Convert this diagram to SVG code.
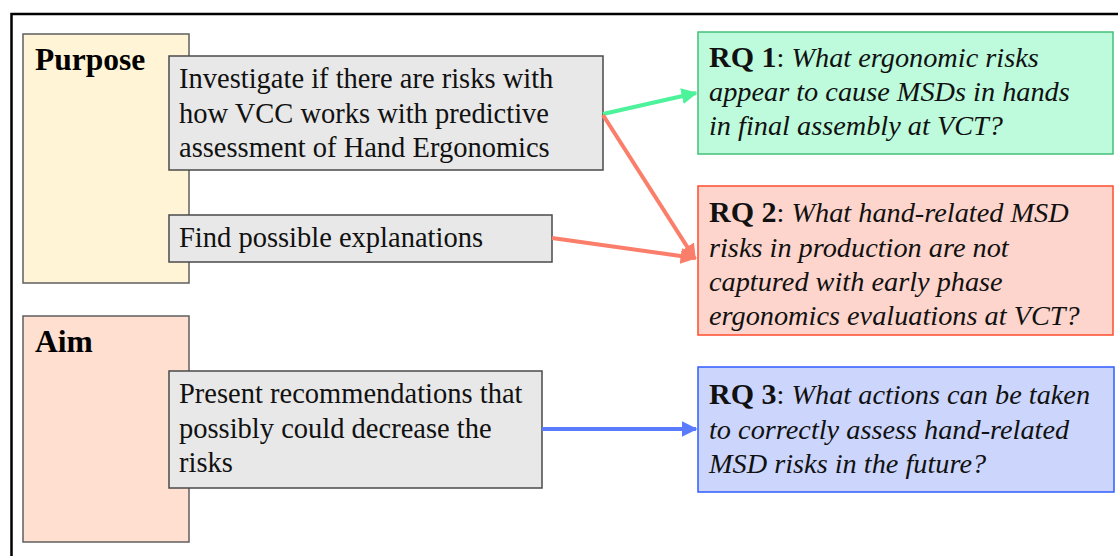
<svg xmlns="http://www.w3.org/2000/svg" width="1118" height="556" viewBox="0 0 1118 556">
  <style>
    .frame { fill: #ffffff; stroke: #000000; stroke-width: 2.5; }
    .group { stroke: #5f5f5f; stroke-width: 1.5; }
    .item { fill: #e8e8e8; stroke: #4a4a4a; stroke-width: 1.5; }
    .head { font-family: "Liberation Serif", "Times New Roman", serif; font-weight: bold; font-size: 31.5px; fill: #000; }
    .body { font-family: "Liberation Serif", "Times New Roman", serif; font-size: 28.5px; fill: #111; }
    .rq { font-family: "Liberation Serif", "Times New Roman", serif; font-size: 28.3px; fill: #111; font-style: italic; }
    .rq .lbl { font-weight: bold; font-style: normal; font-size: 30px; }
    .rq .sep { font-style: normal; }
    .conn { fill: none; stroke-width: 4; }
  </style>
  <defs>
    <marker id="ah-green" viewBox="0 0 10 10" refX="9" refY="5" markerWidth="4" markerHeight="4" orient="auto" markerUnits="strokeWidth">
      <path d="M0,0 L10,5 L0,10 z" fill="#4cf39a"/>
    </marker>
    <marker id="ah-salmon" viewBox="0 0 10 10" refX="9" refY="5" markerWidth="4" markerHeight="4" orient="auto" markerUnits="strokeWidth">
      <path d="M0,0 L10,5 L0,10 z" fill="#fb7e6a"/>
    </marker>
    <marker id="ah-blue" viewBox="0 0 10 10" refX="9" refY="5" markerWidth="4" markerHeight="4" orient="auto" markerUnits="strokeWidth">
      <path d="M0,0 L10,5 L0,10 z" fill="#5b7bff"/>
    </marker>
  </defs>

  <rect width="1118" height="556" fill="#ffffff"/>
  <!-- outer frame, runs past the right and bottom edges -->
  <rect class="frame" x="11.5" y="14" width="1120" height="560"/>

  <!-- Purpose -->
  <g id="purpose">
    <rect class="group" x="23" y="34" width="166" height="249" fill="#fff4d6"/>
    <text class="head" x="35" y="70">Purpose</text>
  </g>
  <g id="investigate">
    <rect class="item" x="169" y="56" width="434" height="114"/>
    <text class="body" x="179" y="88">Investigate if there are risks with</text>
    <text class="body" x="179" y="123">how VCC works with predictive</text>
    <text class="body" x="179" y="157">assessment of Hand Ergonomics</text>
  </g>
  <g id="explanations">
    <rect class="item" x="169" y="215" width="383" height="47"/>
    <text class="body" x="179" y="247">Find possible explanations</text>
  </g>

  <!-- Aim -->
  <g id="aim">
    <rect class="group" x="23" y="316" width="166" height="226" fill="#ffdfd0"/>
    <text class="head" x="35" y="352">Aim</text>
  </g>
  <g id="recommendations">
    <rect class="item" x="169" y="371" width="373" height="117"/>
    <text class="body" x="179" y="403">Present recommendations that</text>
    <text class="body" x="179" y="438">possibly could decrease the</text>
    <text class="body" x="179" y="472">risks</text>
  </g>

  <!-- Research questions -->
  <g id="rq1">
    <rect x="698" y="32" width="415" height="122" fill="#bdfbdc" stroke="#45c07a" stroke-width="1.5"/>
    <text class="rq" x="709" y="67"><tspan class="lbl">RQ 1</tspan><tspan class="sep">: </tspan>What ergonomic risks</text>
    <text class="rq" x="709" y="101">appear to cause MSDs in hands</text>
    <text class="rq" x="709" y="135">in final assembly at VCT?</text>
  </g>
  <g id="rq2">
    <rect x="698" y="186" width="415" height="149" fill="#fdd5cc" stroke="#ff4b2e" stroke-width="1.5"/>
    <text class="rq" x="709" y="222"><tspan class="lbl">RQ 2</tspan><tspan class="sep">: </tspan>What hand-related MSD</text>
    <text class="rq" x="709" y="257">risks in production are not</text>
    <text class="rq" x="709" y="291">captured with early phase</text>
    <text class="rq" x="709" y="325">ergonomics evaluations at VCT?</text>
  </g>
  <g id="rq3">
    <rect x="698" y="367" width="416" height="125" fill="#ccd6fd" stroke="#2f5cff" stroke-width="1.5"/>
    <text class="rq" x="709" y="404"><tspan class="lbl">RQ 3</tspan><tspan class="sep">: </tspan>What actions can be taken</text>
    <text class="rq" x="709" y="439">to correctly assess hand-related</text>
    <text class="rq" x="709" y="473">MSD risks in the future?</text>
  </g>

  <!-- connectors -->
  <g id="connectors">
    <line class="conn" x1="603" y1="114" x2="696" y2="93" stroke="#4cf39a" marker-end="url(#ah-green)"/>
    <line class="conn" x1="603" y1="115" x2="695" y2="259" stroke="#fb7e6a" marker-end="url(#ah-salmon)"/>
    <line class="conn" x1="552" y1="238" x2="695" y2="258" stroke="#fb7e6a" marker-end="url(#ah-salmon)"/>
    <line class="conn" x1="542" y1="429" x2="696" y2="429" stroke="#5b7bff" marker-end="url(#ah-blue)"/>
  </g>
</svg>
